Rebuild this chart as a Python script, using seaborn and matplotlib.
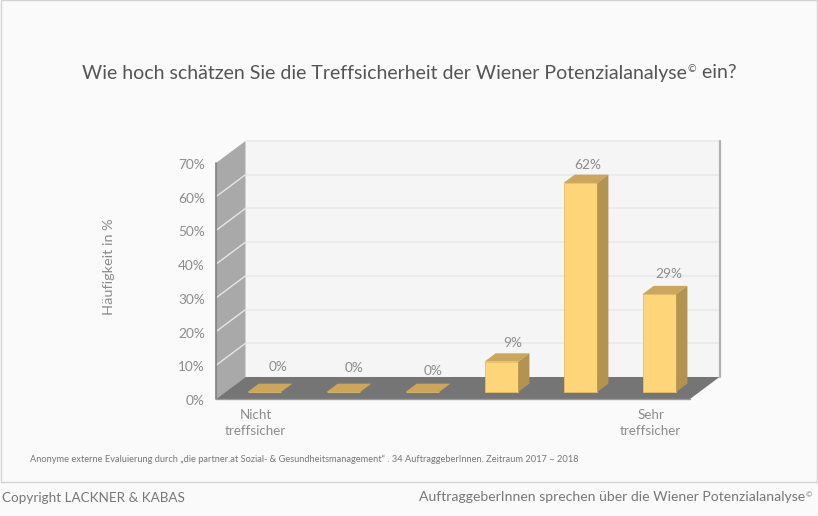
import matplotlib
matplotlib.use("Agg")
import matplotlib.pyplot as plt
from matplotlib.patches import Polygon, Rectangle
from matplotlib.transforms import ScaledTranslation
import seaborn as sns

# Values
scale_points = ["1", "2", "3", "4", "5", "6"]
shares = [0, 0, 0, 9, 62, 29]
x_labels = ["Nicht\ntreffsicher", "", "", "", "", "Sehr\ntreffsicher"]
y_ticks = [0, 10, 20, 30, 40, 50, 60, 70]

W, H = 818, 516

# Depth of the fake 3D box, in data units (x = category slots, y = percent)
DEPTH_X = 29.5 / 79
DEPTH_Y = 22 / 3.37
BAR_DEPTH = 0.30   # where the bars start inside the box
BAR_EXT = 0.38     # how deep the bars themselves are
BAR_WIDTH = 33.7 / 79


def depth(x, y, d):
    return (x + d * DEPTH_X, y + d * DEPTH_Y)


def superscript(parent, text, size, color):
    return plt.annotate(text, xy=(1, 1), xycoords=parent, xytext=(0.3, -size * 0.1),
                        textcoords="offset points", fontsize=size, color=color,
                        ha="left", va="top")


sns.set_theme(style="white")
plt.rcParams["font.family"] = ["Lato", "DejaVu Sans"]

fig = plt.figure(figsize=(W / 100, H / 100), dpi=100, facecolor="#fafafa")
ax = fig.add_axes([216 / W, 1 - 399 / H, 474 / W, 236 / H])
ax.patch.set_alpha(0)

sns.barplot(x=scale_points, y=shares, color="#ffd579", saturation=1, width=BAR_WIDTH,
            ax=ax, zorder=5, edgecolor="#e3bc68", linewidth=0.6)
ax.set_xlim(-0.5, 5.5)
ax.set_ylim(0, 70)

# Box: back wall, left wall, floor
x0, x1 = -0.5, 5.5
top = y_ticks[-1]
ax.add_patch(Polygon([depth(x0, 0, 1), depth(x1, 0, 1), depth(x1, top, 1), depth(x0, top, 1)],
                     closed=True, fc="#f5f5f5", ec="none", clip_on=False, zorder=1))
ax.add_patch(Polygon([depth(x0, 0, 0), depth(x0, 0, 1), depth(x0, top, 1), depth(x0, top, 0)],
                     closed=True, fc="#a9a9a9", ec="none", clip_on=False, zorder=1))
ax.add_patch(Polygon([depth(x0, 0, 0), depth(x1, 0, 0), depth(x1, 0, 1), depth(x0, 0, 1)],
                     closed=True, fc="#757575", ec="none", clip_on=False, zorder=2))

for t in y_ticks[1:]:
    back_a, back_b = depth(x0, t, 1), depth(x1, t, 1)
    ax.plot([back_a[0], back_b[0]], [back_a[1], back_b[1]], color="#e9e9e9", lw=1.1,
            clip_on=False, zorder=1.5)
    if t < top:
        front = depth(x0, t, 0)
        ax.plot([front[0], back_a[0]], [front[1], back_a[1]], color="#e6e6e6", lw=1,
                clip_on=False, zorder=1.5)

# Edges of the box
ax.plot([x0, x0], [0, top], color="#7f7f7f", lw=1.2, clip_on=False, zorder=3)
ax.plot([x0, x1], [0, 0], color="#9a9a9a", lw=1, clip_on=False, zorder=3)
rx, ry = depth(x1, 0, 1)
ax.plot([rx, rx], [ry, top + DEPTH_Y], color="#b0b0b0", lw=1.6, clip_on=False, zorder=3)

# Shift the seaborn bars into the box and add top and side faces
base = 0.318 * DEPTH_Y
for bar, v in zip(list(ax.containers[0]), shares):
    bar.set_x(bar.get_x() + BAR_DEPTH * DEPTH_X)
    bar.set_y(base)
    left, right = bar.get_x(), bar.get_x() + bar.get_width()
    h = base + v
    ext_x, ext_y = BAR_EXT * DEPTH_X, BAR_EXT * DEPTH_Y
    ax.add_patch(Polygon([(left, h), (right, h), (right + ext_x, h + ext_y), (left + ext_x, h + ext_y)],
                         closed=True, fc="#cba65c", ec="none", clip_on=False, zorder=5))
    if v > 0:
        ax.add_patch(Polygon([(right, base), (right + ext_x, base + ext_y),
                              (right + ext_x, h + ext_y), (right, h)],
                             closed=True, fc="#b39350", ec="none", clip_on=False, zorder=5))

# Value labels, nudged by hand like in the original slide
label_nudge = [(14, 17), (11, 16), (11, 13), (11, 10), (7, 10), (9, 12)]
for i, (v, (nx, ny)) in enumerate(zip(shares, label_nudge)):
    bx = i + BAR_DEPTH * DEPTH_X
    ax.annotate(f"{v}%", xy=(bx, base + v + BAR_EXT * DEPTH_Y), xytext=(nx * 0.72, ny * 0.72),
                textcoords="offset points", ha="center", va="center",
                fontsize=9.8, color="#8c8c8c", zorder=6, annotation_clip=False)

# Axes text
ax.set_yticks(y_ticks, [f"{t}%" for t in y_ticks])
ax.set_xticks(range(len(x_labels)), x_labels)
ax.tick_params(axis="y", length=0, pad=8, labelsize=9.8, labelcolor="#8c8c8c")
ax.tick_params(axis="x", length=0, pad=7.5, labelsize=9.6, labelcolor="#8c8c8c")
nudge_down = ScaledTranslation(0, -1 / 100, fig.dpi_scale_trans)
for lab in ax.get_yticklabels():
    lab.set_va("center_baseline")
    lab.set_transform(lab.get_transform() + nudge_down)
for lab in ax.get_xticklabels():
    lab.set_linespacing(1.35)
ax.set_xlabel("")
ax.set_ylabel("Häufigkeit in %", fontsize=10.4, color="#8c8c8c")
ax.yaxis.set_label_coords((115 - 216) / 474, (399 - 267) / 236)
sns.despine(ax=ax, left=True, bottom=True, right=True, top=True)

# Slide frame
fig.add_artist(Rectangle((1 / W, 1 - 482 / H), 816 / W, 482 / H, transform=fig.transFigure,
                         fc="none", ec="#d4d4d4", lw=1))

# Title, with the small raised copyright sign
title = fig.text(82 / W, 1 - 73 / H, "Wie hoch schätzen Sie die Treffsicherheit der Wiener Potenzialanalyse",
                 fontsize=14.0, color="#555555", ha="left", va="center")
mark = superscript(title, "©", 7.5, "#555555")
plt.annotate(" ein?", xy=(1, 0.5), xycoords=title, xytext=(7, 0), textcoords="offset points",
             fontsize=14.0, color="#555555", ha="left", va="center")

fig.text(30 / W, 1 - 459 / H,
         "Anonyme externe Evaluierung durch „die partner.at Sozial- & Gesundheitsmanagement“ . "
         "34 AuftraggeberInnen. Zeitraum 2017 – 2018",
         fontsize=6.65, color="#777777", ha="left", va="center")
fig.text(2 / W, 1 - 498 / H, "Copyright LACKNER & KABAS", fontsize=9.7, color="#777777",
         ha="left", va="center")
foot = fig.text(419 / W, 1 - 497 / H, "AuftraggeberInnen sprechen über die Wiener Potenzialanalyse",
                fontsize=10.1, color="#777777", ha="left", va="center")
superscript(foot, "©", 5.5, "#777777")

fig.savefig("out.png", dpi=100, facecolor=fig.get_facecolor())
